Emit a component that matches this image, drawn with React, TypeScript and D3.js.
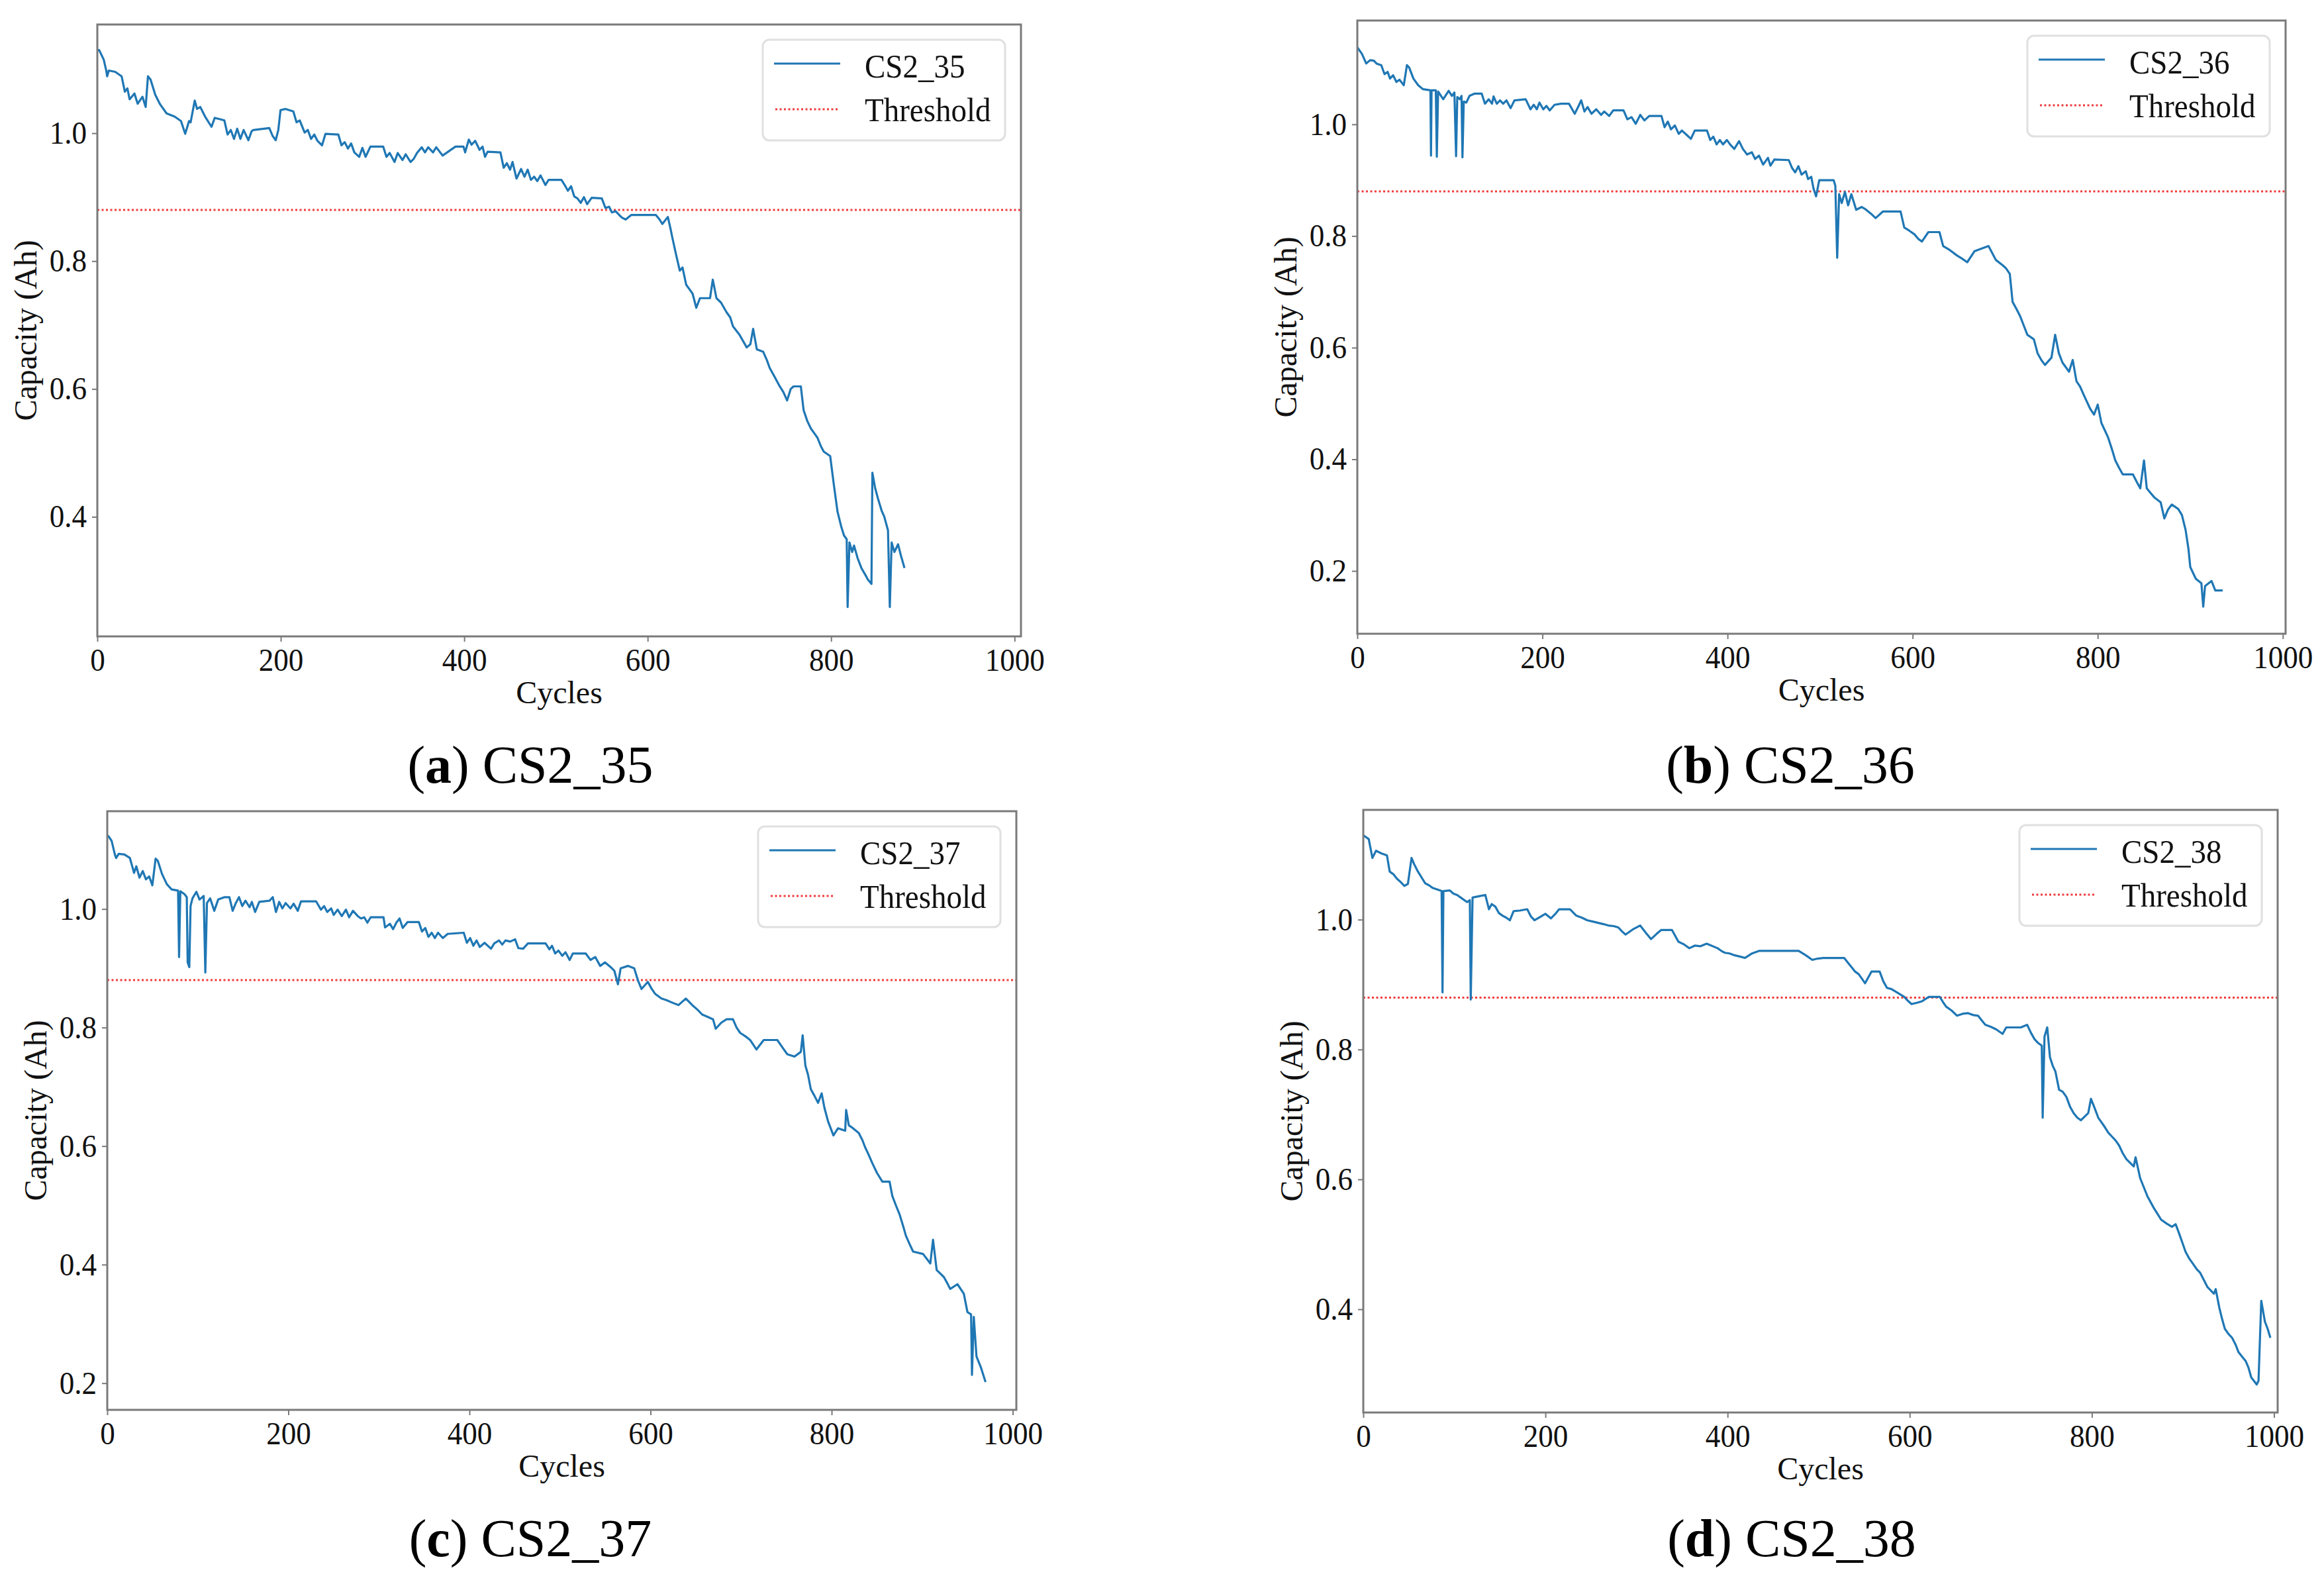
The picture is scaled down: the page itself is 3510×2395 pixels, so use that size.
import { useEffect, useRef } from 'react'
import * as d3 from 'd3'

type Pt = [number, number]

// capacity (Ah) vs cycle
const cs2_35: Pt[] = [
  [0, 1.13], [2, 1.13], [7, 1.115], [9.7, 1.098], [10.7, 1.089], [12.5, 1.098], [19.5, 1.096], [26.5, 1.089], [30, 1.065], [32.8, 1.07],
  [35.2, 1.053], [40.5, 1.062], [44, 1.046], [49.2, 1.057], [52.7, 1.041], [55.2, 1.089], [58, 1.084], [63.2, 1.06], [68.5, 1.045], [75.5, 1.031],
  [84.2, 1.026], [91.2, 1.019], [95.8, 0.999], [100, 1.019], [101.7, 1.017], [106.2, 1.051], [108.7, 1.038], [112.2, 1.041], [117.5, 1.026], [124.5, 1.01],
  [128, 1.024], [138.5, 1.02], [142, 0.998], [145.5, 1.005], [149, 0.991], [152.5, 1.007], [156, 0.991], [159.5, 1.005], [164.7, 0.989], [168.2, 1.003],
  [170, 1.005], [187.5, 1.008], [191, 0.996], [194.5, 0.989], [197.3, 1.005], [199.7, 1.036], [205, 1.038], [213.7, 1.034], [217.2, 1.017], [220.7, 1.02],
  [226, 1.001], [229.5, 1.005], [233, 0.991], [236.5, 0.998], [240, 0.988], [245, 0.981], [248.7, 0.999], [262.7, 0.998], [266.2, 0.981], [269.7, 0.986],
  [273.2, 0.976], [276.7, 0.984], [280.2, 0.97], [285.5, 0.963], [289, 0.977], [292.5, 0.963], [297.7, 0.979], [311.7, 0.979], [315.2, 0.963], [318.7, 0.969],
  [324, 0.955], [327.5, 0.969], [332.7, 0.958], [336.2, 0.967], [341.5, 0.955], [345, 0.96], [348.5, 0.969], [353.7, 0.978], [357.2, 0.97], [360.7, 0.978],
  [366, 0.97], [369.5, 0.978], [376.5, 0.965], [383.5, 0.972], [390.5, 0.979], [399.2, 0.979], [401, 0.97], [405, 0.99], [408, 0.982], [412, 0.988],
  [416.7, 0.974], [420, 0.979], [422.7, 0.963], [425.5, 0.971], [439.5, 0.97], [443, 0.946], [446.5, 0.953], [450, 0.943], [452.7, 0.955], [457, 0.929],
  [462, 0.944], [465.7, 0.932], [469.2, 0.943], [472.7, 0.927], [476.2, 0.932], [479.7, 0.925], [483.2, 0.934], [488.5, 0.919], [492, 0.927], [506, 0.927],
  [509.5, 0.919], [513, 0.91], [516.5, 0.917], [520, 0.901], [523.5, 0.898], [527, 0.891], [530.5, 0.9], [534, 0.889], [539, 0.899], [550, 0.898],
  [554, 0.883], [558, 0.885], [561, 0.876], [565, 0.878], [569, 0.872], [572, 0.868], [576, 0.865], [582, 0.872], [590, 0.872], [609, 0.872],
  [613, 0.865], [616, 0.858], [622, 0.869], [625, 0.85], [627, 0.836], [631, 0.81], [635, 0.785], [638, 0.79], [642, 0.763], [646, 0.755],
  [649, 0.749], [653, 0.727], [657, 0.742], [668, 0.742], [671, 0.771], [675, 0.742], [680, 0.735], [686, 0.72], [690, 0.712], [693, 0.698],
  [700, 0.685], [708, 0.665], [712, 0.67], [715, 0.694], [719, 0.662], [726, 0.658], [730, 0.645], [733, 0.633], [738, 0.62], [744, 0.604],
  [748, 0.595], [752, 0.582], [756, 0.6], [759, 0.604], [767, 0.604], [770, 0.567], [774, 0.55], [778, 0.538], [782, 0.53], [785, 0.524],
  [789, 0.51], [792, 0.502], [799, 0.495], [803, 0.45], [807, 0.408], [811, 0.385], [814, 0.371], [817, 0.365], [818, 0.259], [820, 0.36],
  [823, 0.345], [825, 0.355], [829, 0.335], [833, 0.32], [837, 0.31], [840, 0.302], [844, 0.295], [845, 0.469], [848, 0.445], [851, 0.429],
  [855, 0.41], [858, 0.4], [862, 0.379], [864, 0.259], [866, 0.36], [869, 0.345], [873, 0.357], [876, 0.34], [880, 0.32],
]

const cs2_36: Pt[] = [
  [0, 1.138], [5.1, 1.126], [9.6, 1.109], [13.8, 1.115], [17.9, 1.114], [20.7, 1.109], [25.9, 1.106], [29.4, 1.09], [32.8, 1.094], [35.3, 1.082],
  [38.7, 1.088], [42.2, 1.076], [45.6, 1.08], [50.2, 1.07], [53.6, 1.106], [56, 1.102], [60.6, 1.082], [65.8, 1.07], [71, 1.063], [79, 1.061],
  [79.6, 0.944], [80.2, 1.061], [84.8, 1.061], [85.9, 0.942], [87.3, 1.059], [92.8, 1.045], [98.7, 1.06], [102.2, 1.051], [104.9, 1.057], [106.7, 0.943],
  [108, 1.049], [110.8, 1.045], [112.6, 1.051], [113.6, 0.941], [115, 1.041], [117.8, 1.039], [121.2, 1.051], [126.4, 1.055], [134.4, 1.055], [137.9, 1.037],
  [142, 1.045], [145.5, 1.037], [147.2, 1.05], [150.7, 1.037], [154.2, 1.043], [157.6, 1.037], [161.1, 1.043], [165.6, 1.029], [169.8, 1.043], [181.9, 1.045],
  [187.1, 1.027], [190.6, 1.035], [194, 1.027], [196.8, 1.039], [200.9, 1.027], [204.4, 1.033], [207.9, 1.025], [213.1, 1.035], [220, 1.037], [228.7, 1.037],
  [234.9, 1.019], [239.1, 1.033], [241.9, 1.043], [245.4, 1.023], [248.8, 1.031], [253, 1.019], [258.2, 1.027], [263.4, 1.017], [266.8, 1.023], [272.1, 1.015],
  [276.5, 1.025], [287.6, 1.025], [291.8, 1.009], [296.3, 1.013], [300.8, 1.001], [305.7, 1.017], [310.2, 1.007], [315.4, 1.015], [328.6, 1.015], [332, 0.995],
  [335.5, 1.005], [338.9, 0.991], [343.1, 0.998], [347.3, 0.983], [350.7, 0.989], [355.3, 0.982], [360.4, 0.974], [364.6, 0.989], [377.8, 0.989], [381.3, 0.972],
  [384.7, 0.978], [388.2, 0.964], [391.7, 0.972], [395.1, 0.964], [399.3, 0.972], [402.8, 0.964], [407.3, 0.956], [412.5, 0.97], [416.6, 0.956], [421.1, 0.946],
  [426.3, 0.95], [429.8, 0.938], [434, 0.944], [438.5, 0.928], [443.7, 0.94], [446.4, 0.926], [450.6, 0.937], [466.2, 0.936], [469.7, 0.922], [473.1, 0.914],
  [476.6, 0.925], [480, 0.91], [484.6, 0.916], [487, 0.902], [490.5, 0.906], [492.9, 0.885], [495.7, 0.871], [499.1, 0.9], [514.7, 0.9], [516.5, 0.89],
  [518.5, 0.761], [520.6, 0.875], [523.4, 0.859], [526.9, 0.879], [530.3, 0.855], [533.8, 0.875], [539, 0.847], [545, 0.852], [549, 0.848], [555, 0.84],
  [560, 0.832], [568, 0.844], [587, 0.844], [591, 0.815], [596, 0.81], [602, 0.803], [606, 0.795], [610, 0.79], [617, 0.807], [629, 0.807],
  [633, 0.782], [640, 0.775], [648, 0.765], [653, 0.76], [659, 0.753], [667, 0.773], [682, 0.782], [690, 0.757], [697, 0.748], [701, 0.742],
  [705, 0.732], [708, 0.682], [712, 0.67], [716, 0.657], [720, 0.64], [724, 0.623], [731, 0.615], [735, 0.59], [739, 0.578], [743, 0.569],
  [750, 0.582], [754, 0.623], [758, 0.59], [762, 0.573], [769, 0.557], [773, 0.578], [777, 0.54], [781, 0.53], [785, 0.515], [792, 0.49],
  [796, 0.48], [800, 0.498], [804, 0.465], [811, 0.44], [815, 0.42], [819, 0.398], [823, 0.385], [827, 0.373], [838, 0.373], [842, 0.36],
  [846, 0.348], [850, 0.398], [853, 0.348], [857, 0.34], [861, 0.332], [868, 0.323], [872, 0.294], [876, 0.31], [880, 0.319], [887, 0.311],
  [891, 0.3], [895, 0.273], [898, 0.24], [900, 0.207], [906, 0.186], [912, 0.178], [914, 0.136], [916, 0.173], [923, 0.182], [927, 0.165],
  [935, 0.165],
]

const cs2_37: Pt[] = [
  [0, 1.124], [1.3, 1.123], [4.8, 1.115], [8.4, 1.092], [9.8, 1.086], [12.6, 1.093], [19, 1.092], [25, 1.086], [29.6, 1.061], [32.1, 1.072],
  [35.6, 1.053], [39.2, 1.064], [42.7, 1.05], [46.3, 1.055], [49.8, 1.04], [53.4, 1.085], [55.9, 1.081], [60.5, 1.059], [65.8, 1.042], [71.1, 1.033],
  [78.2, 1.031], [79.3, 0.919], [80.7, 1.03], [85.3, 1.025], [87.8, 1.02], [88.8, 0.91], [90.6, 0.902], [92, 1.005], [94.1, 1.018], [98.4, 1.029],
  [101.9, 1.016], [106.5, 1.022], [108.3, 0.893], [110.1, 1.01], [113.6, 1.018], [118.2, 0.997], [122.5, 1.016], [129.6, 1.02], [134.9, 1.02], [138.5, 0.997],
  [142, 1.01], [145.5, 1.02], [149.1, 1.005], [152.6, 1.014], [157.2, 1.003], [159.7, 1.012], [163.3, 0.995], [167.9, 1.012], [179.2, 1.014], [182.8, 1.02],
  [186.3, 0.995], [189.9, 1.012], [193.4, 1.001], [197, 1.01], [202.3, 1.001], [205.8, 1.009], [210.4, 0.997], [214, 1.013], [230.6, 1.013], [236, 0.999],
  [239.5, 1.005], [243, 0.995], [247.3, 1.001], [250.1, 0.99], [254.4, 0.999], [259, 0.988], [263.6, 0.999], [267.1, 0.986], [271.4, 0.997], [276.7, 0.988],
  [280.3, 0.984], [283.8, 0.986], [287.3, 0.977], [290.9, 0.986], [305.1, 0.986], [306.8, 0.969], [312.2, 0.975], [315.7, 0.966], [319.3, 0.977], [322.8, 0.984],
  [326.3, 0.968], [331.7, 0.978], [344.1, 0.978], [347.6, 0.962], [351.2, 0.968], [354.7, 0.953], [358.3, 0.96], [361.8, 0.951], [365.3, 0.96], [370.6, 0.951],
  [376, 0.958], [393.7, 0.96], [397.2, 0.943], [400.8, 0.951], [404.3, 0.938], [407.9, 0.947], [411.4, 0.936], [416.7, 0.943], [423.8, 0.933], [427.4, 0.942],
  [432.7, 0.947], [436.2, 0.94], [439.8, 0.947], [445.1, 0.945], [450.4, 0.949], [454, 0.934], [459.3, 0.933], [464.6, 0.942], [484.1, 0.942], [488.3, 0.932],
  [491.2, 0.938], [494.7, 0.925], [498.3, 0.93], [502.5, 0.921], [506.1, 0.927], [510.7, 0.914], [514.2, 0.925], [528.4, 0.925], [533.7, 0.914], [539, 0.919],
  [544.4, 0.904], [549.7, 0.91], [556, 0.902], [560, 0.896], [564, 0.873], [567, 0.9], [575, 0.904], [582, 0.9], [586, 0.88], [590, 0.865],
  [597, 0.877], [601, 0.866], [605, 0.857], [612, 0.849], [618, 0.846], [624, 0.842], [631, 0.838], [639, 0.849], [646, 0.838], [652, 0.83],
  [657, 0.822], [663, 0.818], [669, 0.814], [672, 0.798], [678, 0.808], [684, 0.814], [691, 0.814], [695, 0.8], [699, 0.791], [705, 0.785],
  [710, 0.779], [714, 0.77], [717, 0.763], [725, 0.779], [740, 0.779], [745, 0.768], [751, 0.755], [759, 0.751], [766, 0.759], [768, 0.787],
  [771, 0.736], [774, 0.72], [777, 0.696], [781, 0.685], [785, 0.673], [789, 0.689], [792, 0.665], [796, 0.642], [802, 0.618], [807, 0.63],
  [815, 0.626], [816, 0.661], [819, 0.635], [822, 0.632], [830, 0.622], [834, 0.61], [837, 0.598], [841, 0.585], [845, 0.571], [850, 0.555],
  [856, 0.54], [864, 0.54], [867, 0.516], [871, 0.5], [875, 0.485], [879, 0.465], [882, 0.449], [886, 0.435], [890, 0.422], [901, 0.418],
  [905, 0.41], [909, 0.402], [912, 0.442], [916, 0.391], [920, 0.385], [924, 0.379], [928, 0.368], [931, 0.359], [939, 0.367], [946, 0.351],
  [950, 0.32], [954, 0.316], [955, 0.214], [957, 0.312], [960, 0.245], [965, 0.226], [970, 0.202],
]

const cs2_38: Pt[] = [
  [0, 1.13], [1, 1.129], [6, 1.124], [10, 1.095], [14, 1.106], [20, 1.102], [26, 1.099], [29, 1.074], [33, 1.07], [37, 1.063],
  [41, 1.058], [45, 1.052], [49, 1.055], [53, 1.095], [56, 1.085], [60, 1.074], [64, 1.065], [68, 1.056], [72, 1.053], [76, 1.049],
  [82, 1.046], [86, 1.044], [87, 0.888], [88, 1.044], [95, 1.045], [99, 1.04], [103, 1.038], [108, 1.033], [114, 1.027], [117, 1.03],
  [118, 0.877], [120, 1.034], [127, 1.036], [134, 1.038], [138, 1.016], [141, 1.024], [145, 1.02], [149, 1.01], [153, 1.006], [157, 1.003],
  [161, 0.999], [165, 1.013], [172, 1.014], [180, 1.016], [184, 1.005], [188, 0.999], [194, 1.004], [200, 1.009], [206, 1.002], [211, 1.009],
  [215, 1.016], [227, 1.016], [234, 1.006], [240, 1.003], [246, 0.999], [252, 0.997], [258, 0.995], [264, 0.993], [269, 0.991], [275, 0.99],
  [280, 0.988], [284, 0.982], [288, 0.977], [296, 0.985], [304, 0.991], [310, 0.98], [316, 0.97], [322, 0.978], [327, 0.984], [339, 0.984],
  [346, 0.966], [352, 0.962], [358, 0.956], [364, 0.96], [370, 0.959], [377, 0.963], [389, 0.956], [393, 0.952], [397, 0.949], [402, 0.948],
  [408, 0.945], [414, 0.943], [419, 0.941], [427, 0.948], [435, 0.952], [447, 0.952], [459, 0.952], [478, 0.952], [486, 0.945], [493, 0.938],
  [499, 0.94], [505, 0.941], [528, 0.941], [532, 0.934], [536, 0.927], [540, 0.92], [544, 0.916], [548, 0.908], [551, 0.902], [558, 0.92],
  [567, 0.92], [571, 0.905], [575, 0.895], [580, 0.893], [586, 0.888], [594, 0.881], [598, 0.875], [602, 0.87], [608, 0.872], [613, 0.874],
  [621, 0.881], [633, 0.881], [637, 0.872], [640, 0.866], [646, 0.86], [652, 0.852], [658, 0.855], [664, 0.856], [670, 0.853], [675, 0.852],
  [679, 0.845], [683, 0.838], [689, 0.835], [695, 0.831], [702, 0.824], [706, 0.834], [722, 0.834], [729, 0.838], [733, 0.826], [737, 0.816],
  [741, 0.81], [745, 0.806], [746, 0.695], [748, 0.82], [751, 0.834], [754, 0.788], [757, 0.775], [760, 0.766], [764, 0.738], [768, 0.735],
  [772, 0.727], [776, 0.712], [780, 0.702], [784, 0.695], [788, 0.691], [796, 0.702], [799, 0.724], [803, 0.71], [807, 0.695], [814, 0.681],
  [818, 0.672], [822, 0.666], [826, 0.66], [830, 0.652], [834, 0.64], [838, 0.631], [846, 0.62], [848, 0.634], [853, 0.602], [857, 0.588],
  [861, 0.574], [868, 0.556], [872, 0.547], [876, 0.538], [882, 0.532], [888, 0.527], [892, 0.531], [896, 0.516], [900, 0.5], [903, 0.488],
  [907, 0.478], [911, 0.47], [915, 0.462], [919, 0.456], [923, 0.445], [927, 0.434], [934, 0.424], [936, 0.431], [940, 0.402], [943, 0.385],
  [946, 0.37], [950, 0.362], [954, 0.356], [958, 0.345], [961, 0.334], [965, 0.327], [969, 0.32], [972, 0.31], [975, 0.295], [981, 0.284],
  [983, 0.29], [986, 0.413], [990, 0.381], [993, 0.37], [996, 0.356],
]

const threshold = 0.88
const xTicks = [0, 200, 400, 600, 800, 1000]

// layout of the four sub-figures (pixels)
const panels = [
  { letter: 'a', name: 'CS2_35', data: cs2_35, left: 147, top: 37, right: 1542, bottom: 961, xMax: 1007, yDomain: [0.213, 1.17], yTicks: [0.4, 0.6, 0.8, 1.0], capX: 801, capY: 1182 },
  { letter: 'b', name: 'CS2_36', data: cs2_36, left: 2050, top: 31, right: 3452, bottom: 957, xMax: 1003, yDomain: [0.0875, 1.186], yTicks: [0.2, 0.4, 0.6, 0.8, 1.0], capX: 2704, capY: 1182 },
  { letter: 'c', name: 'CS2_37', data: cs2_37, left: 162, top: 1225, right: 1535, bottom: 2129, xMax: 1004, yDomain: [0.155, 1.165], yTicks: [0.2, 0.4, 0.6, 0.8, 1.0], capX: 801, capY: 2350 },
  { letter: 'd', name: 'CS2_38', data: cs2_38, left: 2059, top: 1223, right: 3440, bottom: 2133, xMax: 1004, yDomain: [0.241, 1.169], yTicks: [0.4, 0.6, 0.8, 1.0], capX: 2706, capY: 2350 },
]

const W = 3510
const H = 2395
const FONT = '"Liberation Serif", "Times New Roman", serif'
const BLUE = '#1f77b4'
const RED = '#f03c3c'
const SPINE = '#7a7a7a'
const SQUEEZE = 0.94 // the source figure's text is slightly condensed

export default function App() {
  const svgRef = useRef<SVGSVGElement>(null)

  useEffect(() => {
    if (!svgRef.current) return
    const svg = d3.select(svgRef.current)
    svg.selectAll('*').remove()

    svg.append('rect').attr('width', W).attr('height', H).attr('fill', '#fff')

    panels.forEach((p) => {
      const g = svg.append('g').attr('font-family', FONT)
      const x = d3.scaleLinear().domain([0, p.xMax]).range([p.left, p.right])
      const y = d3.scaleLinear().domain(p.yDomain).range([p.bottom, p.top])

      const clipId = `clip-${p.letter}`
      g.append('clipPath')
        .attr('id', clipId)
        .append('rect')
        .attr('x', p.left)
        .attr('y', p.top)
        .attr('width', p.right - p.left)
        .attr('height', p.bottom - p.top)

      // Threshold
      g.append('line')
        .attr('x1', p.left)
        .attr('x2', p.right)
        .attr('y1', y(threshold))
        .attr('y2', y(threshold))
        .attr('stroke', RED)
        .attr('stroke-width', 3)
        .attr('stroke-dasharray', '3,3.5')

      // Capacity curve
      const line = d3
        .line<Pt>()
        .x((d) => x(d[0]))
        .y((d) => y(d[1]))
      g.append('path')
        .datum(p.data)
        .attr('clip-path', `url(#${clipId})`)
        .attr('fill', 'none')
        .attr('stroke', BLUE)
        .attr('stroke-width', 3.2)
        .attr('stroke-linejoin', 'round')
        .attr('d', line)

      // Axes
      const xAxis = g
        .append('g')
        .attr('transform', `translate(0,${p.bottom})`)
        .call(d3.axisBottom(x).tickValues(xTicks).tickSize(8).tickPadding(10).tickFormat(d3.format('d')))
      const yAxis = g
        .append('g')
        .attr('transform', `translate(${p.left},0)`)
        .call(d3.axisLeft(y).tickValues(p.yTicks).tickSize(8).tickPadding(9).tickFormat(d3.format('.1f')))
      ;[xAxis, yAxis].forEach((ax) => {
        ax.select('.domain').remove()
        ax.selectAll('line').attr('stroke', SPINE).attr('stroke-width', 2)
        ax.selectAll('text')
          .attr('font-size', 48)
          .attr('fill', '#111')
          .attr('font-family', FONT)
          .attr('transform', `scale(${SQUEEZE},1)`)
      })

      // Frame
      g.append('rect')
        .attr('x', p.left)
        .attr('y', p.top)
        .attr('width', p.right - p.left)
        .attr('height', p.bottom - p.top)
        .attr('fill', 'none')
        .attr('stroke', SPINE)
        .attr('stroke-width', 3)

      // Axis labels
      g.append('text')
        .attr('x', (p.left + p.right) / 2)
        .attr('y', p.bottom + 101)
        .attr('text-anchor', 'middle')
        .attr('font-size', 48)
        .attr('fill', '#111')
        .text('Cycles')
      g.append('text')
        .attr('transform', `translate(${p.left - 92},${(p.top + p.bottom) / 2}) rotate(-90)`)
        .attr('text-anchor', 'middle')
        .attr('font-size', 48)
        .attr('fill', '#111')
        .text('Capacity (Ah)')

      // Legend
      const lx = p.right - 24 - 366
      const ly = p.top + 23
      const leg = g.append('g').attr('transform', `translate(${lx},${ly})`)
      leg.append('rect')
        .attr('width', 366)
        .attr('height', 152)
        .attr('rx', 10)
        .attr('fill', '#fff')
        .attr('stroke', '#e0e0e0')
        .attr('stroke-width', 3)
      leg.append('line')
        .attr('x1', 17).attr('x2', 117).attr('y1', 36).attr('y2', 36)
        .attr('stroke', BLUE).attr('stroke-width', 3.2)
      leg.append('line')
        .attr('x1', 19).attr('x2', 115).attr('y1', 105).attr('y2', 105)
        .attr('stroke', RED).attr('stroke-width', 3).attr('stroke-dasharray', '3,3.5')
      leg.append('text')
        .attr('transform', `translate(154,57) scale(${SQUEEZE},1)`)
        .attr('font-size', 50).attr('fill', '#111').text(p.name)
      leg.append('text')
        .attr('transform', `translate(154,123) scale(${SQUEEZE},1)`)
        .attr('font-size', 50).attr('fill', '#111').text('Threshold')

      // Caption
      const cap = g.append('text')
        .attr('x', p.capX)
        .attr('y', p.capY)
        .attr('text-anchor', 'middle')
        .attr('font-size', 80)
        .attr('fill', '#000')
      cap.append('tspan').text('(')
      cap.append('tspan').attr('font-weight', 'bold').text(p.letter)
      cap.append('tspan').text(`) ${p.name}`)
    })
  }, [])

  return (
    <div style={{ position: 'absolute', left: 0, top: 0 }}>
      <svg ref={svgRef} width={W} height={H} style={{ display: 'block' }}></svg>
    </div>
  )
}
